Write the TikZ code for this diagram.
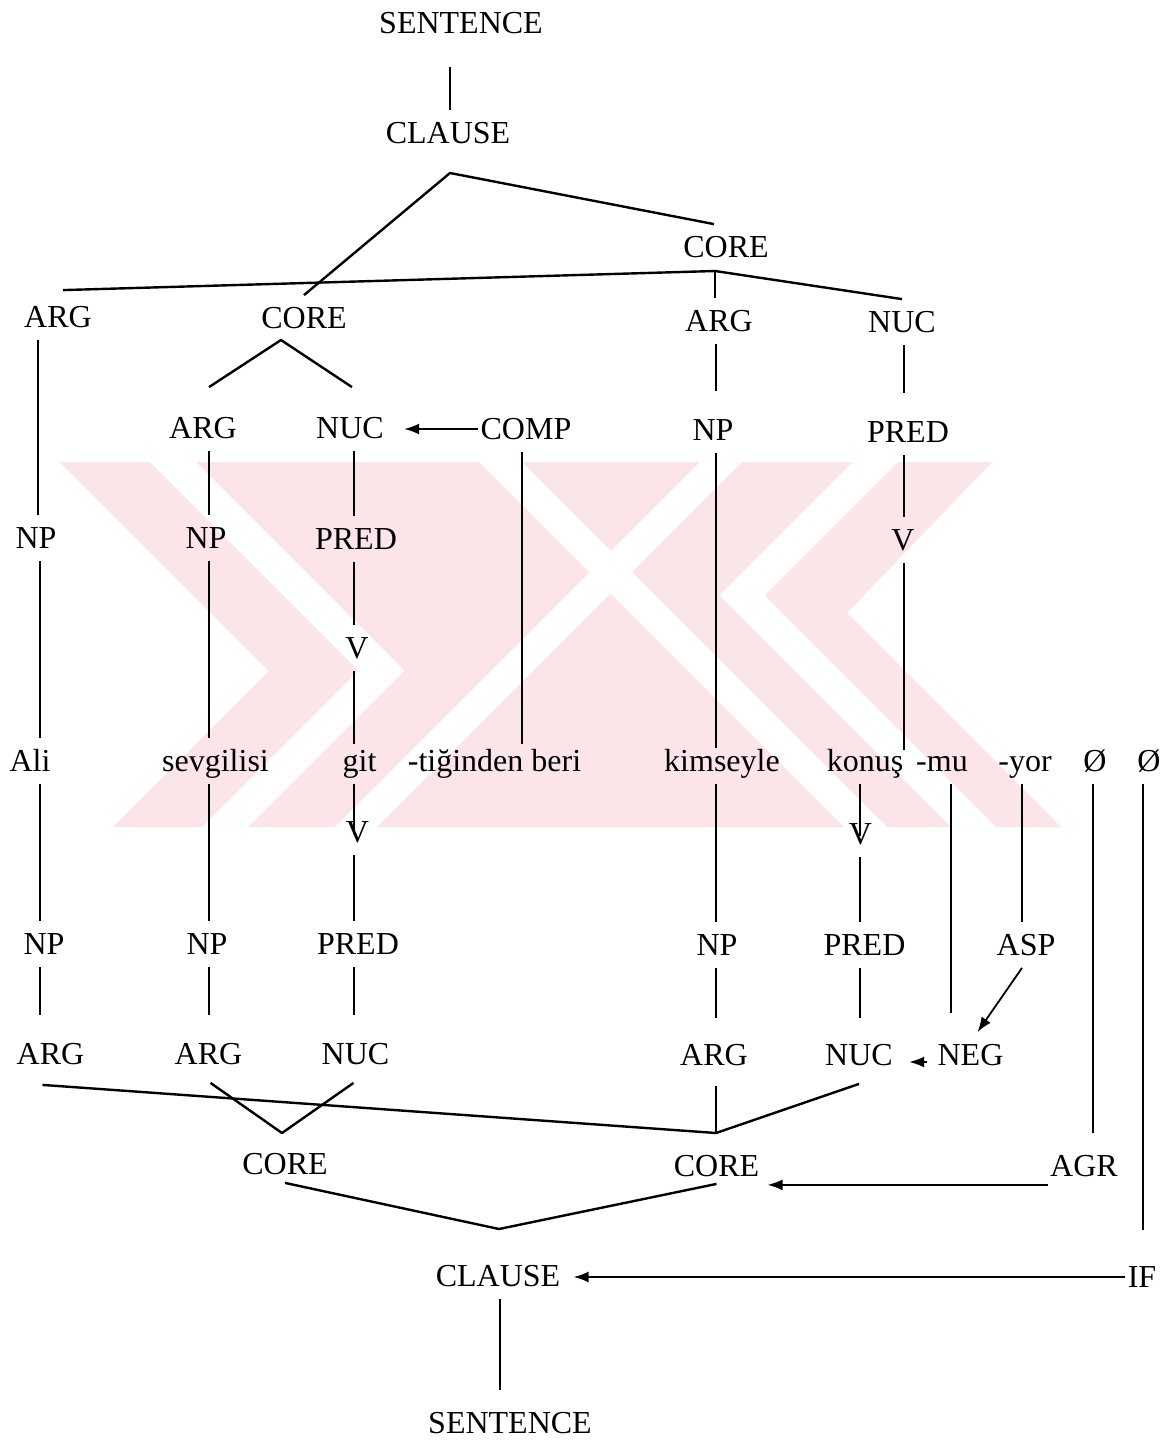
\documentclass[tikz,border=0pt]{standalone}
\usepackage{fontspec}
\setmainfont{Liberation Serif}
\usetikzlibrary{arrows.meta}
\definecolor{wm}{RGB}{252,229,233}
\begin{document}
\begin{tikzpicture}[x=0.5pt,y=-0.5pt,
  lab/.style={inner xsep=1pt, inner ysep=6pt, text height=10.5pt, text depth=0pt,
              font=\fontsize{16pt}{19pt}\selectfont},
  ln/.style={line width=0.9pt},
  br/.style={line width=1.2pt, line join=round},
  arr/.style={line width=0.9pt, -{Latex[length=7.5pt,width=5.5pt]}}]
\useasboundingbox (0,0) rectangle (1173,1440);

% ---- watermark (background) ----
\begin{scope}
  \clip (60,462) -- (992,462) -- (847,613) -- (1061,827) -- (113,827) -- (269,671) -- cycle;
  \fill[wm] (0,450) rectangle (1173,840);
  \fill[white] (150,462) -- (196,462) -- (404.5,670.5) -- (248,827) -- (202,827) -- (358.5,670.5) -- cycle;
  \fill[white] (853,462) -- (898,462) -- (764.5,595.5) -- (996,827) -- (951,827) -- (719.5,595.5) -- cycle;
  \fill[white] (479,462) -- (522,462) -- (887,827) -- (844,827) -- cycle;
  \fill[white] (700,462) -- (742,462) -- (377,827) -- (335,827) -- cycle;
\end{scope}

% ---- nodes ----
\node[lab] (sentT)  at (461,23)  {SENTENCE};
\node[lab] (clauseT) at (448,133) {CLAUSE};
\node[lab] (coreR)  at (726,247) {CORE};
\node[lab] (argA)   at (58,317)  {ARG};
\node[lab] (coreL)  at (304,318) {CORE};
\node[lab] (argB)   at (719,321) {ARG};
\node[lab] (nucB)   at (902,322) {NUC};
\node[lab] (argC)   at (203,428) {ARG};
\node[lab] (nucC)   at (350,428) {NUC};
\node[lab] (comp)   at (526,429) {COMP};
\node[lab] (npB)    at (713,430) {NP};
\node[lab] (predB)  at (908,432) {PRED};
\node[lab] (npA)    at (36,538)  {NP};
\node[lab] (npC)    at (206,538) {NP};
\node[lab] (predC)  at (356,539) {PRED};
\node[lab] (vB)     at (903,540) {V};
\node[lab] (vC)     at (357,648) {V};
\node[lab] (ali)    at (30,761)  {Ali};
\node[lab] (sev)    at (215.5,761) {sevgilisi};
\node[lab] (git)    at (359.5,761) {git};
\node[lab] (tig)    at (494.5,761) {-tiğinden beri};
\node[lab] (kim)    at (722,761) {kimseyle};
\node[lab] (kon)    at (865,761) {konuş};
\node[lab] (mu)     at (942,761) {-mu};
\node[lab] (yor)    at (1025,761) {-yor};
\node[lab] (zA)     at (1095,761) {Ø};
\node[lab] (zB)     at (1149,761) {Ø};
\node[lab] (vD)     at (357.5,832) {V};
\node[lab] (vE)     at (860.5,834) {V};
\node[lab] (npD)    at (44,944)  {NP};
\node[lab] (npE)    at (207,944) {NP};
\node[lab] (predE)  at (358,944) {PRED};
\node[lab] (npF)    at (717,945) {NP};
\node[lab] (predF)  at (864.5,945) {PRED};
\node[lab] (asp)    at (1026,945) {ASP};
\node[lab] (argD)   at (50.5,1054) {ARG};
\node[lab] (argE)   at (208.5,1054) {ARG};
\node[lab] (nucE)   at (355.5,1054) {NUC};
\node[lab] (argF)   at (714,1055) {ARG};
\node[lab] (nucF)   at (859,1055) {NUC};
\node[lab] (neg)    at (970.5,1055) {NEG};
\node[lab] (coreLb) at (285,1164) {CORE};
\node[lab] (coreRb) at (716.5,1166) {CORE};
\node[lab] (agr)    at (1084,1166) {AGR};
\node[lab] (clauseB) at (498,1276) {CLAUSE};
\node[lab] (ifn)    at (1142,1277) {IF};
\node[lab] (sentB)  at (510,1423) {SENTENCE};

% ---- column and junction coordinates ----
\coordinate (k450) at (450,0);
\coordinate (k500) at (500,0);
\coordinate (k38)  at (38,0);
\coordinate (k40)  at (40,0);
\coordinate (k209) at (209,0);
\coordinate (k354) at (354,0);
\coordinate (k522) at (522,0);
\coordinate (k716) at (716,0);
\coordinate (k860) at (860,0);
\coordinate (k904) at (904,0);
\coordinate (k1022) at (1022,0);
\coordinate (ctApex) at (450,173);
\coordinate (crApex) at (715,271);
\coordinate (clApex) at (281,340);
\coordinate (cfApex) at (716,1133);
\coordinate (clbApex) at (282,1133);
\coordinate (cbApex) at (499,1229);
\coordinate (vBend) at (904,750);
\coordinate (vDtip) at (354,834);
\coordinate (vEtip) at (860,836);
\coordinate (muEnd) at (951,1013);
\coordinate (zAend) at (1093,1133);
\coordinate (zBend) at (1143,1230);

% ---- top part ----
\draw[ln, shorten <=10.5pt] (sentT.south -| k450) -- (clauseT.north -| k450);
\draw[br] (coreL.north) -- (ctApex) -- ([xshift=-6pt]coreR.north);
\draw[br] ([xshift=2.5pt,yshift=2pt]argA.north) -- (crApex) -- (nucB.north);
\draw[ln] (crApex) -- (crApex |- argB.north);
\draw[br] ([xshift=3pt,yshift=9pt]argC.north) -- (clApex) -- ([xshift=1pt,yshift=9pt]nucC.north);
\draw[arr, shorten >=9pt] (comp.west) -- (comp.west -| nucC.east);

% column Ali
\draw[ln] (argA.south -| k38) -- (npA.north -| k38);
\draw[ln] (npA.south -| k40) -- (ali.north -| k40);
\draw[ln] (ali.south -| k40) -- (npD.north -| k40);
\draw[ln, shorten >=8pt] (npD.south -| k40) -- (argD.north -| k40);
% column sevgilisi
\draw[ln] (argC.south -| k209) -- (npC.north -| k209);
\draw[ln] (npC.south -| k209) -- (sev.north -| k209);
\draw[ln] (sev.south -| k209) -- (npE.north -| k209);
\draw[ln, shorten >=8pt] (npE.south -| k209) -- (argE.north -| k209);
% column git
\draw[ln] (nucC.south -| k354) -- (predC.north -| k354);
\draw[ln] (predC.south -| k354) -- (vC.north -| k354);
\draw[ln, shorten >=-3pt] (vC.south -| k354) -- (git.north -| k354);
\draw[ln] (git.south -| k354) -- (vDtip);
\draw[ln] (vD.south -| k354) -- (predE.north -| k354);
\draw[ln, shorten >=8pt] (predE.south -| k354) -- (nucE.north -| k354);
% COMP
\draw[ln, shorten >=-3pt] (comp.south -| k522) -- (tig.north -| k522);
% column kimseyle
\draw[ln, shorten >=8pt] (argB.south -| k716) -- (npB.north -| k716);
\draw[ln, shorten >=-5pt] (npB.south -| k716) -- (kim.north -| k716);
\draw[ln] (kim.south -| k716) -- (npF.north -| k716);
\draw[ln, shorten >=7pt] (npF.south -| k716) -- (argF.north -| k716);
% column konus (upper)
\draw[ln, shorten >=8pt] (nucB.south -| k904) -- (predB.north -| k904);
\draw[ln] (predB.south -| k904) -- (vB.north -| k904);
\draw[ln] (vB.south -| k904) -- (vBend);
% column konus (lower)
\draw[ln] (kon.south -| k860) -- (vEtip);
\draw[ln] (vE.south -| k860) -- (predF.north -| k860);
\draw[ln, shorten >=7pt] (predF.south -| k860) -- (nucF.north -| k860);
% affixes
\draw[ln] (mu.south -| muEnd) -- (muEnd);
\draw[ln] (yor.south -| k1022) -- (asp.north -| k1022);
\draw[arr] ([xshift=-2pt]asp.south) -- ([xshift=3.5pt]neg.north);
\draw[arr, shorten <=4pt, shorten >=7pt] ([yshift=-3.5pt]neg.west) -- ([yshift=-3.5pt]neg.west -| nucF.east);
\draw[ln] (zA.south -| zAend) -- (zAend);
\draw[ln] (zB.south -| zBend) -- (zBend);

% ---- bottom part ----
\draw[br] ([xshift=-4pt,yshift=-4pt]argD.south) -- (cfApex) -- ([yshift=-3pt]nucF.south);
\draw[ln] ([yshift=-4pt]cfApex |- argF.south) -- (cfApex);
\draw[br] ([xshift=1pt,yshift=-3pt]argE.south) -- (clbApex) -- ([xshift=-1pt,yshift=-3pt]nucE.south);
\draw[br] ([yshift=2pt]coreLb.south) -- (cbApex) -- ([yshift=2.5pt]coreRb.south);
\draw[arr, shorten >=3pt] ([yshift=2pt]agr.south west) -- ([yshift=2pt]agr.south west -| coreRb.east);
\draw[arr, shorten >=5.5pt] (ifn.west) -- (ifn.west -| clauseB.east);
\draw[ln, shorten >=5pt] (clauseB.south -| k500) -- (sentB.north -| k500);
\end{tikzpicture}
\end{document}
